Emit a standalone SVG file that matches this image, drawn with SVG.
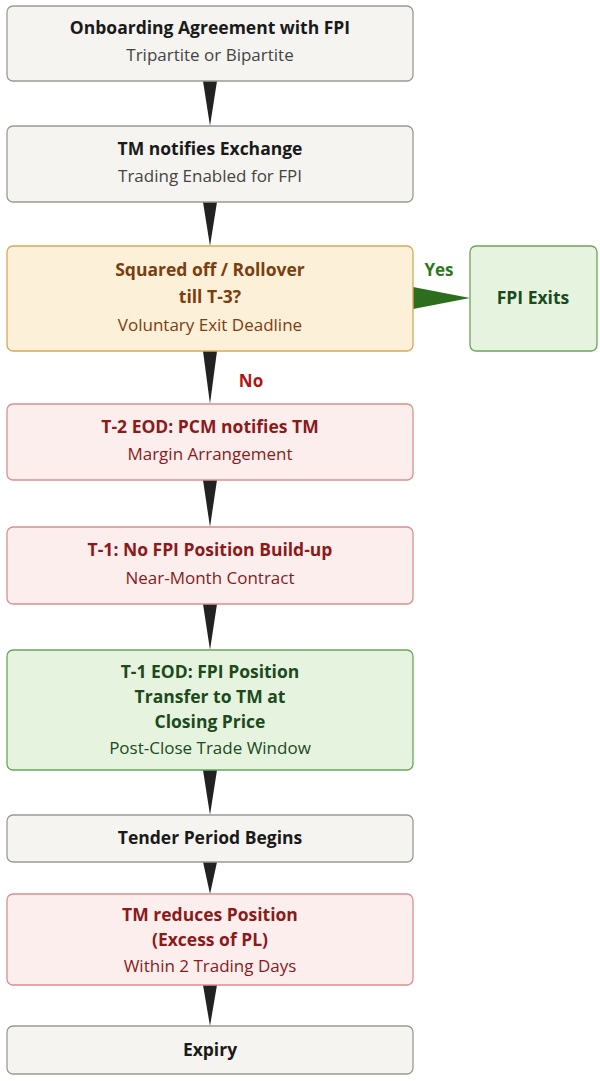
<svg xmlns="http://www.w3.org/2000/svg" width="600" height="1081" viewBox="0 0 600 1081">
<style>
text{font-family:"Open Sans","Noto Sans",sans-serif;text-anchor:middle}
.t{font-size:17.5px;font-weight:bold}
.s{font-size:17px}
.g rect{fill:#f5f4f0;stroke:#9a9a94;stroke-width:1.3}
.g text{fill:#1a1a1a}.g .s{fill:#444}
.o rect{fill:#fdf0d8;stroke:#d9a85a;stroke-width:1.3}
.o text{fill:#7a3e10}
.p rect{fill:#fdeeee;stroke:#dc8f8f;stroke-width:1.3}
.p text{fill:#8b1a1a}
.n rect{fill:#e6f4df;stroke:#6aa55a;stroke-width:1.3}
.n text{fill:#1c4a1c}
.w{fill:#222}
</style>
<g id="connectors">
<polygon class="w" points="203,81 217,81 210,126"/>
<polygon class="w" points="203,202 217,202 210,246"/>
<polygon class="w" points="203,351 217,351 210,404"/>
<polygon class="w" points="203,480 217,480 210,527"/>
<polygon class="w" points="203,604 217,604 210,650"/>
<polygon class="w" points="203,770 217,770 210,815"/>
<polygon class="w" points="203,862 217,862 210,894"/>
<polygon class="w" points="203,985 217,985 210,1026"/>
<polygon fill="#2d6e1e" points="413,287 413,309 470,298"/>
<text x="439" y="276" font-size="17" font-weight="bold" fill="#2d7a1e">Yes</text>
<text x="251" y="387" font-size="17" font-weight="bold" fill="#b01515">No</text>
</g>
<g id="n1" class="g"><rect x="7" y="6" width="406" height="75" rx="6"/><text class="t" x="210" y="34">Onboarding Agreement with FPI</text><text class="s" x="210" y="61">Tripartite or Bipartite</text></g>
<g id="n2" class="g"><rect x="7" y="126" width="406" height="76" rx="6"/><text class="t" x="210" y="155">TM notifies Exchange</text><text class="s" x="210" y="182">Trading Enabled for FPI</text></g>
<g id="n3" class="o"><rect x="7" y="246" width="406" height="105" rx="6"/><text class="t" x="210" y="276">Squared off / Rollover</text><text class="t" x="210" y="303">till T-3?</text><text class="s" x="210" y="331">Voluntary Exit Deadline</text></g>
<g id="n3b" class="n"><rect x="470" y="246" width="127" height="105" rx="6"/><text class="t" x="533" y="304">FPI Exits</text></g>
<g id="n4" class="p"><rect x="7" y="404" width="406" height="76" rx="6"/><text class="t" x="210" y="433">T-2 EOD: PCM notifies TM</text><text class="s" x="210" y="460">Margin Arrangement</text></g>
<g id="n5" class="p"><rect x="7" y="527" width="406" height="77" rx="6"/><text class="t" x="210" y="556">T-1: No FPI Position Build-up</text><text class="s" x="210" y="584">Near-Month Contract</text></g>
<g id="n6" class="n"><rect x="7" y="650" width="406" height="120" rx="6"/><text class="t" x="210" y="678">T-1 EOD: FPI Position</text><text class="t" x="210" y="703">Transfer to TM at</text><text class="t" x="210" y="728">Closing Price</text><text class="s" x="210" y="754">Post-Close Trade Window</text></g>
<g id="n7" class="g"><rect x="7" y="815" width="406" height="47" rx="6"/><text class="t" x="210" y="844">Tender Period Begins</text></g>
<g id="n8" class="p"><rect x="7" y="894" width="406" height="91" rx="6"/><text class="t" x="210" y="921">TM reduces Position</text><text class="t" x="210" y="946">(Excess of PL)</text><text class="s" x="210" y="972">Within 2 Trading Days</text></g>
<g id="n9" class="g"><rect x="7" y="1026" width="406" height="48" rx="6"/><text class="t" x="210" y="1056">Expiry</text></g>
</svg>
